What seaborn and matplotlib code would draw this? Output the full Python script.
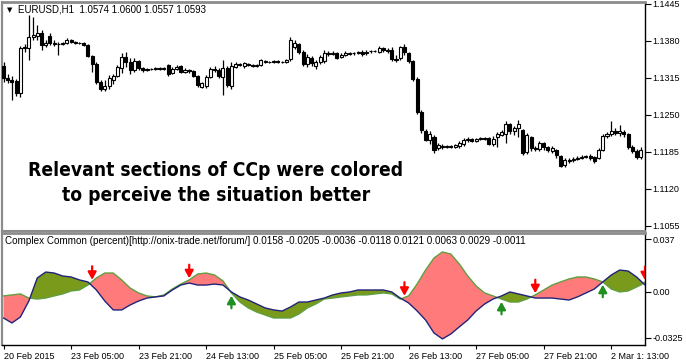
import numpy as np
import pandas as pd
import matplotlib
matplotlib.use("Agg")
import matplotlib.pyplot as plt
import seaborn as sns

# ---------------- data (EURUSD H1 candles) ----------------
opens = [
    1.1336, 1.1315, 1.1311, 1.1310, 1.1289, 1.1368, 1.1368, 1.1387, 1.1389, 1.1394,
    1.1373, 1.1389, 1.1376, 1.1375, 1.1375, 1.1376, 1.1382, 1.1378, 1.1376, 1.1376,
    1.1373, 1.1354, 1.1340, 1.1308, 1.1296, 1.1301, 1.1311, 1.1318, 1.1333, 1.1352,
    1.1343, 1.1329, 1.1345, 1.1333, 1.1329, 1.1331, 1.1331, 1.1333, 1.1331, 1.1338,
    1.1324, 1.1331, 1.1336, 1.1326, 1.1329, 1.1327, 1.1318, 1.1299, 1.1301, 1.1317,
    1.1331, 1.1329, 1.1317, 1.1333, 1.1301, 1.1334, 1.1340, 1.1336, 1.1340, 1.1338,
    1.1336, 1.1338, 1.1345, 1.1343, 1.1343, 1.1345, 1.1343, 1.1343, 1.1348, 1.1369,
    1.1375, 1.1361, 1.1340, 1.1350, 1.1336, 1.1343, 1.1345, 1.1359, 1.1357, 1.1359,
    1.1352, 1.1355, 1.1359, 1.1359, 1.1359, 1.1361, 1.1359, 1.1362, 1.1362, 1.1361,
    1.1368, 1.1364, 1.1364, 1.1348, 1.1350, 1.1369, 1.1359, 1.1345, 1.1313, 1.1255,
    1.1222, 1.1206, 1.1211, 1.1192, 1.1195, 1.1194, 1.1195, 1.1194, 1.1195, 1.1199,
    1.1206, 1.1208, 1.1204, 1.1208, 1.1210, 1.1210, 1.1199, 1.1211, 1.1215, 1.1217,
    1.1234, 1.1222, 1.1227, 1.1224, 1.1185, 1.1211, 1.1192, 1.1190, 1.1201, 1.1194,
    1.1187, 1.1188, 1.1178, 1.1162, 1.1171, 1.1171, 1.1173, 1.1174, 1.1176, 1.1178,
    1.1176, 1.1174, 1.1188, 1.1213, 1.1217, 1.1222, 1.1218, 1.1220, 1.1217, 1.1194,
    1.1187, 1.1176]
closes = [
    1.1315, 1.1311, 1.1308, 1.1289, 1.1368, 1.1369, 1.1387, 1.1390, 1.1394, 1.1373,
    1.1376, 1.1376, 1.1375, 1.1375, 1.1376, 1.1382, 1.1378, 1.1376, 1.1376, 1.1373,
    1.1354, 1.1340, 1.1308, 1.1296, 1.1301, 1.1315, 1.1318, 1.1334, 1.1352, 1.1343,
    1.1329, 1.1345, 1.1333, 1.1329, 1.1331, 1.1331, 1.1333, 1.1331, 1.1333, 1.1322,
    1.1331, 1.1334, 1.1326, 1.1329, 1.1327, 1.1318, 1.1303, 1.1306, 1.1317, 1.1331,
    1.1329, 1.1318, 1.1333, 1.1303, 1.1336, 1.1340, 1.1338, 1.1341, 1.1338, 1.1336,
    1.1338, 1.1347, 1.1343, 1.1343, 1.1345, 1.1343, 1.1343, 1.1347, 1.1382, 1.1376,
    1.1361, 1.1340, 1.1352, 1.1341, 1.1343, 1.1352, 1.1359, 1.1357, 1.1359, 1.1350,
    1.1355, 1.1359, 1.1357, 1.1359, 1.1361, 1.1357, 1.1361, 1.1362, 1.1362, 1.1368,
    1.1364, 1.1362, 1.1348, 1.1347, 1.1369, 1.1361, 1.1345, 1.1313, 1.1255, 1.1224,
    1.1206, 1.1217, 1.1188, 1.1197, 1.1194, 1.1195, 1.1194, 1.1197, 1.1201, 1.1206,
    1.1208, 1.1204, 1.1208, 1.1210, 1.1208, 1.1199, 1.1208, 1.1217, 1.1220, 1.1234,
    1.1222, 1.1227, 1.1234, 1.1183, 1.1215, 1.1192, 1.1190, 1.1201, 1.1194, 1.1188,
    1.1192, 1.1180, 1.1160, 1.1171, 1.1169, 1.1173, 1.1174, 1.1176, 1.1178, 1.1174,
    1.1169, 1.1188, 1.1213, 1.1217, 1.1222, 1.1218, 1.1222, 1.1217, 1.1194, 1.1187,
    1.1176, 1.1188]
highs = [
    1.1343, 1.1322, 1.1318, 1.1313, 1.1371, 1.1375, 1.1426, 1.1422, 1.1408, 1.1399,
    1.1382, 1.1394, 1.1382, 1.1378, 1.1378, 1.1385, 1.1384, 1.1380, 1.1378, 1.1378,
    1.1375, 1.1355, 1.1343, 1.1311, 1.1311, 1.1320, 1.1322, 1.1338, 1.1359, 1.1361,
    1.1350, 1.1350, 1.1347, 1.1334, 1.1333, 1.1333, 1.1334, 1.1334, 1.1334, 1.1340,
    1.1334, 1.1338, 1.1338, 1.1333, 1.1331, 1.1329, 1.1320, 1.1308, 1.1320, 1.1334,
    1.1336, 1.1333, 1.1347, 1.1336, 1.1343, 1.1343, 1.1341, 1.1343, 1.1341, 1.1340,
    1.1340, 1.1348, 1.1347, 1.1345, 1.1347, 1.1347, 1.1345, 1.1348, 1.1387, 1.1382,
    1.1376, 1.1364, 1.1357, 1.1354, 1.1347, 1.1355, 1.1364, 1.1362, 1.1362, 1.1361,
    1.1359, 1.1362, 1.1361, 1.1361, 1.1362, 1.1364, 1.1364, 1.1364, 1.1364, 1.1371,
    1.1369, 1.1368, 1.1369, 1.1355, 1.1371, 1.1375, 1.1361, 1.1347, 1.1317, 1.1259,
    1.1225, 1.1222, 1.1215, 1.1201, 1.1199, 1.1197, 1.1197, 1.1199, 1.1204, 1.1210,
    1.1211, 1.1210, 1.1210, 1.1211, 1.1211, 1.1211, 1.1213, 1.1220, 1.1224, 1.1239,
    1.1236, 1.1231, 1.1241, 1.1225, 1.1218, 1.1213, 1.1195, 1.1204, 1.1203, 1.1195,
    1.1195, 1.1190, 1.1180, 1.1174, 1.1174, 1.1176, 1.1178, 1.1180, 1.1180, 1.1181,
    1.1178, 1.1192, 1.1217, 1.1220, 1.1239, 1.1227, 1.1232, 1.1224, 1.1218, 1.1197,
    1.1190, 1.1194]
lows = [
    1.1308, 1.1306, 1.1276, 1.1283, 1.1282, 1.1361, 1.1347, 1.1382, 1.1382, 1.1364,
    1.1369, 1.1373, 1.1371, 1.1355, 1.1373, 1.1375, 1.1376, 1.1375, 1.1375, 1.1371,
    1.1352, 1.1326, 1.1304, 1.1292, 1.1292, 1.1296, 1.1304, 1.1317, 1.1324, 1.1334,
    1.1322, 1.1326, 1.1329, 1.1326, 1.1327, 1.1329, 1.1329, 1.1329, 1.1329, 1.1318,
    1.1322, 1.1329, 1.1324, 1.1324, 1.1324, 1.1317, 1.1299, 1.1297, 1.1297, 1.1315,
    1.1326, 1.1315, 1.1285, 1.1299, 1.1296, 1.1333, 1.1336, 1.1333, 1.1336, 1.1334,
    1.1334, 1.1336, 1.1341, 1.1341, 1.1341, 1.1341, 1.1341, 1.1341, 1.1345, 1.1366,
    1.1357, 1.1336, 1.1334, 1.1336, 1.1331, 1.1340, 1.1341, 1.1354, 1.1355, 1.1348,
    1.1350, 1.1354, 1.1355, 1.1355, 1.1357, 1.1354, 1.1355, 1.1359, 1.1361, 1.1359,
    1.1361, 1.1359, 1.1345, 1.1343, 1.1347, 1.1355, 1.1341, 1.1310, 1.1252, 1.1218,
    1.1204, 1.1199, 1.1183, 1.1188, 1.1190, 1.1192, 1.1192, 1.1192, 1.1192, 1.1195,
    1.1203, 1.1203, 1.1203, 1.1206, 1.1206, 1.1197, 1.1195, 1.1194, 1.1213, 1.1201,
    1.1217, 1.1215, 1.1211, 1.1180, 1.1181, 1.1187, 1.1187, 1.1187, 1.1188, 1.1185,
    1.1183, 1.1174, 1.1159, 1.1159, 1.1166, 1.1167, 1.1171, 1.1173, 1.1174, 1.1171,
    1.1166, 1.1173, 1.1187, 1.1210, 1.1213, 1.1215, 1.1213, 1.1211, 1.1190, 1.1183,
    1.1173, 1.1173]

# ---------------- indicator (Complex Common, percent) ----------------
ind_bars = list(range(0, 152, 2)) + [151, 152]
ccp_fast = [
    -0.0186, -0.0221, -0.0179, -0.0066, 0.0097, 0.0139, 0.0132, 0.0111, 0.0104, 0.0083,
    0.0069, 0.0012, -0.0066, -0.0129, -0.0129, -0.0094, -0.0066, -0.0045, -0.0037, -0.0030,
    0.0012, 0.0047, 0.0061, 0.0047, 0.0047, 0.0054, 0.0047, -0.0002, -0.0037, -0.0059,
    -0.0087, -0.0115, -0.0129, -0.0137, -0.0108, -0.0073, -0.0073, -0.0059, -0.0045, -0.0023,
    -0.0009, -0.0002, 0.0012, 0.0012, 0.0012, 0.0012, -0.0002, -0.0045, -0.0080, -0.0136,
    -0.0200, -0.0292, -0.0334, -0.0299, -0.0249, -0.0200, -0.0136, -0.0087, -0.0052, -0.0030,
    -0.0002, -0.0016, -0.0030, -0.0045, -0.0045, -0.0045, -0.0052, -0.0059, -0.0037, -0.0009,
    0.0019, 0.0069, 0.0118, 0.0153, 0.0146, 0.0104, 0.0076, 0.0047]
ccp_slow = [
    -0.0030, -0.0023, -0.0016, -0.0045, -0.0052, -0.0045, -0.0030, -0.0016, 0.0005, 0.0012,
    0.0047, 0.0097, 0.0132, 0.0132, 0.0083, 0.0026, -0.0009, -0.0030, -0.0037, -0.0023,
    0.0019, 0.0054, 0.0083, 0.0125, 0.0132, 0.0118, 0.0076, -0.0009, -0.0073, -0.0115,
    -0.0144, -0.0165, -0.0186, -0.0186, -0.0186, -0.0158, -0.0115, -0.0087, -0.0052, -0.0045,
    -0.0037, -0.0030, -0.0023, -0.0023, -0.0016, -0.0009, -0.0016, -0.0052, -0.0030, 0.0054,
    0.0153, 0.0238, 0.0281, 0.0266, 0.0196, 0.0111, 0.0040, -0.0009, -0.0030, -0.0052,
    -0.0073, -0.0073, -0.0052, -0.0023, 0.0012, 0.0047, 0.0069, 0.0090, 0.0104, 0.0104,
    0.0090, 0.0069, 0.0019, -0.0002, 0.0005, 0.0033, 0.0047, 0.0069]
sell_bars = [21, 44, 95, 126, 152]
buy_bars = [54, 118, 142]

time_ticks = [0, 16, 32, 48, 64, 80, 96, 112, 128, 144]
time_labels = ["20 Feb 2015", "23 Feb 05:00", "23 Feb 21:00", "24 Feb 13:00",
               "25 Feb 05:00", "25 Feb 21:00", "26 Feb 13:00", "27 Feb 05:00",
               "27 Feb 21:00", "2 Mar 1: 13:00"]
price_ticks = [1.1445, 1.1380, 1.1315, 1.1250, 1.1185, 1.1120, 1.1055]
ind_ticks = [0.037, 0.0, -0.0325]
ind_tick_labels = ["0.037", "0.00", "-0.0325"]

title_top = "EURUSD,H1  1.0574 1.0600 1.0557 1.0593"
title_sub = ("Complex Common (percent)[http://onix-trade.net/forum/] "
             "0.0158 -0.0205 -0.0036 -0.0118 0.0121 0.0063 0.0029 -0.0011")
note_lines = ["Relevant sections of CCp were colored", "to perceive the situation better"]

# ---------------- style ----------------
sns.set_style("white")
plt.rcParams["font.family"] = ["Liberation Sans", "DejaVu Sans"]
plt.rcParams["text.color"] = "black"
plt.rcParams["axes.labelcolor"] = "black"

W, H = 686, 363
fig = plt.figure(figsize=(W / 100, H / 100), dpi=100)
fig.patch.set_facecolor("white")


def fx(px):
    return px / W


def fy(py):
    return 1 - py / H


ax1 = fig.add_axes([fx(2), fy(231), fx(645) - fx(2), fy(2) - fy(231)])
ax2 = fig.add_axes([fx(2), fy(345), fx(645) - fx(2), fy(233) - fy(345)])
XLIM = (-0.36, 152.0)

# ---------------- candles ----------------
df = pd.DataFrame({"o": opens, "h": highs, "l": lows, "c": closes})
df["bar"] = np.arange(len(df))
bull = (df.c >= df.o).values
body_bot = np.minimum(df.o, df.c).values
body_h = np.maximum(np.abs(df.c - df.o).values, 0.00003)
ax1.vlines(df.bar, df.l, df.h, color="black", lw=0.9, zorder=2)
ax1.bar(df.bar[bull], body_h[bull], bottom=body_bot[bull], width=0.72,
        color="white", edgecolor="black", lw=0.8, zorder=3)
ax1.bar(df.bar[~bull], body_h[~bull], bottom=body_bot[~bull], width=0.72,
        color="black", edgecolor="black", lw=0.8, zorder=3)
ax1.set_xlim(*XLIM)
ax1.set_ylim(1.10462, 1.14485)
ax1.set_xticks([])
ax1.set_yticks(price_ticks)
ax1.set_yticklabels([f"{v:.4f}" for v in price_ticks])
ax1.tick_params(axis="y", left=False, labelleft=False, right=True, labelright=True,
                direction="out", length=4, width=0.8, pad=1.5, labelsize=6.5,
                colors="black")

# ---------------- indicator ----------------
xb = np.array(ind_bars, dtype=float)
fa = np.array(ccp_fast)
sl = np.array(ccp_slow)
ax2.fill_between(xb, fa, sl, where=fa >= sl, interpolate=True, color="#7a9a1c", lw=0, zorder=1)
ax2.fill_between(xb, fa, sl, where=fa < sl, interpolate=True, color="#ff7b7b", lw=0, zorder=1)
sns.lineplot(x=xb, y=sl, ax=ax2, color="#5f9f3f", lw=1.0, zorder=2, legend=False)
sns.lineplot(x=xb, y=fa, ax=ax2, color="#22227a", lw=1.0, zorder=3, legend=False)

for b in sell_bars:
    top = max(np.interp(b, xb, fa), np.interp(b, xb, sl))
    ann = ax2.annotate("", xy=(b, top), xytext=(0, 11), textcoords="offset points",
                       annotation_clip=False,
                       arrowprops=dict(arrowstyle="-|>,head_length=0.45,head_width=0.25",
                                       color="#ff0000", lw=1.6, shrinkA=0, shrinkB=1.2))
    ann.arrow_patch.set_clip_box(ax2.bbox)
    ann.arrow_patch.set_clip_on(True)
for b in buy_bars:
    bot = min(np.interp(b, xb, fa), np.interp(b, xb, sl))
    ann = ax2.annotate("", xy=(b, bot), xytext=(0, -11), textcoords="offset points",
                       annotation_clip=False,
                       arrowprops=dict(arrowstyle="-|>,head_length=0.45,head_width=0.25",
                                       color="#1f8f1f", lw=1.6, shrinkA=0, shrinkB=2.0))
    ann.arrow_patch.set_clip_box(ax2.bbox)
    ann.arrow_patch.set_clip_on(True)

ax2.set_xlim(*XLIM)
ax2.set_ylim(-0.0377, 0.0415)
ax2.set_xlabel("")
ax2.set_ylabel("")
ax2.set_yticks(ind_ticks)
ax2.set_yticklabels(ind_tick_labels)
ax2.tick_params(axis="y", left=False, labelleft=False, right=True, labelright=True,
                direction="out", length=4, width=0.8, pad=1.5, labelsize=6.5,
                colors="black")
ax2.set_xticks(time_ticks)
ax2.set_xticklabels(time_labels, ha="left")
ax2.tick_params(axis="x", bottom=True, direction="out", length=3, width=0.8,
                pad=2, labelsize=6.5, colors="black")
for lab in ax2.get_xticklabels():
    lab.set_horizontalalignment("left")

# ---------------- frames ----------------
for ax in (ax1, ax2):
    ax.set_facecolor("white")
    ax.spines["left"].set_color("#8c8c8c")
    ax.spines["left"].set_linewidth(1.6)
    ax.spines["right"].set_color("black")
    ax.spines["right"].set_linewidth(1.0)
ax1.spines["top"].set_color("#8c8c8c")
ax1.spines["top"].set_linewidth(2.0)
ax1.spines["bottom"].set_color("#8c8c8c")
ax1.spines["bottom"].set_linewidth(1.5)
ax2.spines["top"].set_color("#8c8c8c")
ax2.spines["top"].set_linewidth(2.0)
ax2.spines["bottom"].set_color("black")
ax2.spines["bottom"].set_linewidth(1.0)

# ---------------- texts ----------------
fig.text(fx(7), fy(10), "\u25BC", fontsize=5, va="center", ha="left",
         family=["DejaVu Sans"], color="black")
fig.text(fx(18), fy(10), title_top, fontsize=7.05, va="center", ha="left", color="black")
fig.text(fx(5), fy(241), title_sub, fontsize=7.1, va="center", ha="left", color="black")
for line, base in zip(note_lines, (176, 201)):
    fig.text(fx(216), fy(base), line, fontsize=13.8, fontweight="bold",
             fontstretch="condensed", family=["DejaVu Sans"], color="black",
             ha="center", va="baseline")

fig.savefig("out.png", dpi=100, facecolor="white")
